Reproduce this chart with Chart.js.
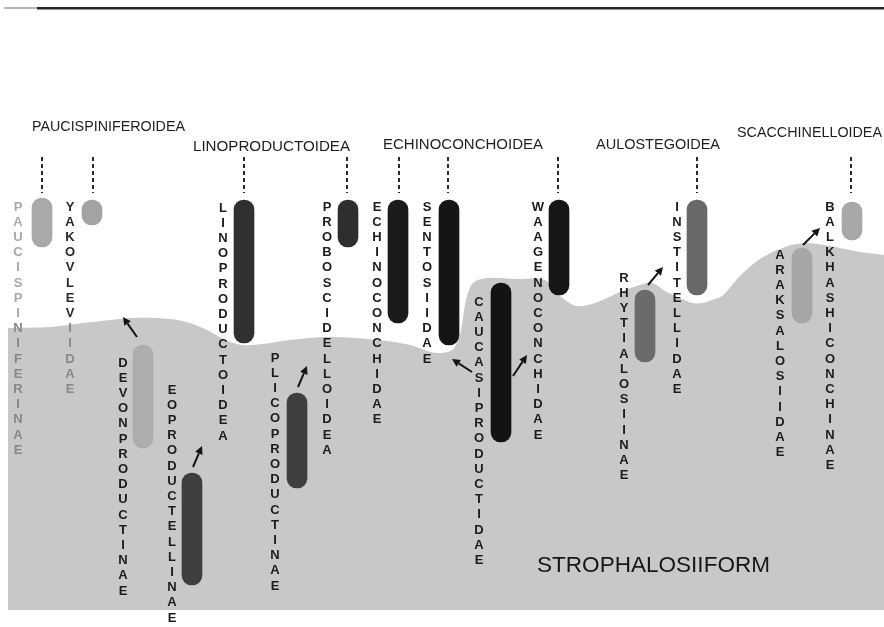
<!DOCTYPE html>
<html>
<head>
<meta charset="utf-8">
<title>Strophalosiiform</title>
<script src="https://cdn.jsdelivr.net/npm/chart.js@4.4.1/dist/chart.umd.min.js"></script>
<style>
  html, body { margin: 0; padding: 0; background: #fff; }
  #chart { display: block; }
</style>
</head>
<body>
<canvas id="chart" width="884" height="627"></canvas>
<script>
// taxa, one bar each (position across, range top/bottom on the diagram scale)
const taxa = ['PAUCISPINIFERINAE', 'YAKOVLEVIIDAE', 'DEVONPRODUCTINAE', 'EOPRODUCTELLINAE',
  'LINOPRODUCTOIDEA', 'PLICOPRODUCTINAE', 'PROBOSCIDELLOIDEA', 'ECHINOCONCHIDAE',
  'SENTOSIIDAE', 'CAUCASIPRODUCTIDAE', 'WAAGENOCONCHIDAE', 'RHYTIALOSIINAE',
  'INSTITELLIDAE', 'ARAKSALOSIIDAE', 'BALKHASHICONCHINAE'];
const columns = [42, 92, 143, 192, 244, 297, 348, 398, 449, 501, 559, 645, 697, 802, 852];
const rangeTop = [198, 200, 345, 473, 200, 393, 200, 200, 200, 283, 200, 290, 200, 248, 202];
const rangeBottom = [247, 225, 448, 585, 343, 488, 247, 323, 345, 442, 295, 362, 295, 323, 240];
const shades = ['#a9a9a9', '#a3a3a3', '#adadad', '#3e3e3e', '#303030', '#3e3e3e', '#2e2e2e',
  '#1a1a1a', '#151515', '#131313', '#161616', '#6b6b6b', '#686868', '#a6a6a6', '#a8a8a8'];

// where each name is written (letters stacked downwards)
const labelX = [18, 70, 123, 172, 223, 275, 327, 377, 427, 479, 538, 624, 677, 780, 830];
const labelTop = [207, 207, 363, 390, 208, 358, 207, 207, 207, 302, 207, 278, 207, 255, 207];

// superfamilies and the taxa hanging from them by a dashed line
const superfamilies = ['PAUCISPINIFEROIDEA', 'LINOPRODUCTOIDEA', 'ECHINOCONCHOIDEA', 'AULOSTEGOIDEA', 'SCACCHINELLOIDEA'];
const superLeft = [32, 193, 383, 596, 737];
const superRight = [185, 350, 543, 720, 882];
const superY = [127, 147, 145, 145, 133];
const dashedColumns = [42, 93, 244, 347, 399, 448, 558, 697, 851];

// top edge of the strophalosiiform field
const fieldX = [8, 50, 83, 133, 170, 190, 207, 225, 242, 262, 290, 330, 380, 410, 422, 436, 452, 460, 466, 473, 487, 515, 545,
  560, 576, 592, 605, 620, 640, 652, 667, 680, 692, 703, 712, 722, 740, 760, 785, 805, 830, 860, 884];
const fieldY = [328, 327, 323, 318, 319, 323, 330, 340, 345, 344, 340, 337, 340, 345, 349, 353, 350, 335, 300, 283, 278, 279, 280,
  296, 306, 304, 299, 292, 285, 283, 292, 298, 303, 303, 300, 296, 276, 259, 247, 243, 246, 252, 255];
const fieldBase = 610;

// small arrows: from -> to
const arrowFrom = [[137, 337], [193, 467], [298, 387], [472, 372], [513, 376], [648, 285], [803, 245]];
const arrowTo = [[123, 317], [202, 446], [307, 366], [452, 359], [527, 355], [663, 267], [820, 228]];

const LETTER_STEP = 15.2;

const notes = {
  id: 'notes',
  afterDatasetsDraw(chart) {
    const ctx = chart.ctx;
    const xs = chart.scales.x, ys = chart.scales.y;
    const px = v => xs.getPixelForValue(v);
    const py = v => ys.getPixelForValue(v);
    ctx.save();

    // rule across the top
    ctx.fillStyle = '#b5b5b5';
    ctx.fillRect(4, 7, 34, 2);
    ctx.fillStyle = '#262626';
    ctx.fillRect(37, 7, 847, 2.5);

    // dashed links up to the superfamilies
    ctx.strokeStyle = '#2a2a2a';
    ctx.lineWidth = 2;
    ctx.setLineDash([4, 3]);
    dashedColumns.forEach(c => {
      ctx.beginPath();
      ctx.moveTo(px(c), py(157));
      ctx.lineTo(px(c), py(193));
      ctx.stroke();
    });
    ctx.setLineDash([]);

    // superfamily names
    ctx.fillStyle = '#1e1e1e';
    ctx.textBaseline = 'middle';
    ctx.textAlign = 'left';
    ctx.font = '14px "Liberation Sans", Arial, sans-serif';
    superfamilies.forEach((name, i) => {
      const w = ctx.measureText(name).width;
      const target = px(superRight[i]) - px(superLeft[i]);
      ctx.save();
      ctx.translate(px(superLeft[i]), py(superY[i]));
      ctx.scale(target / w, 1);
      ctx.fillText(name, 0, 0);
      ctx.restore();
    });

    // vertical names, one letter under the other
    ctx.textAlign = 'center';
    ctx.font = 'bold 13px "Liberation Sans", Arial, sans-serif';
    taxa.forEach((name, i) => {
      [...name].forEach((ch, k) => {
        let col = '#1c1c1c';
        if (i === 0) col = k < 8 ? '#a8a8a8' : '#878787';
        if (i === 1) col = k < 8 ? '#2a2a2a' : '#888888';
        ctx.fillStyle = col;
        ctx.fillText(ch, px(labelX[i]), py(labelTop[i] + k * LETTER_STEP));
      });
    });

    // arrows
    ctx.strokeStyle = '#141414';
    ctx.fillStyle = '#141414';
    ctx.lineWidth = 2;
    arrowFrom.forEach((a, i) => {
      const x0 = px(a[0]), y0 = py(a[1]);
      const x1 = px(arrowTo[i][0]), y1 = py(arrowTo[i][1]);
      const ang = Math.atan2(y1 - y0, x1 - x0);
      const hl = 8, hw = 4;
      const bx = x1 - hl * Math.cos(ang), by = y1 - hl * Math.sin(ang);
      ctx.beginPath();
      ctx.moveTo(x0, y0);
      ctx.lineTo(bx, by);
      ctx.stroke();
      ctx.beginPath();
      ctx.moveTo(x1, y1);
      ctx.lineTo(bx + hw * Math.sin(ang), by - hw * Math.cos(ang));
      ctx.lineTo(bx - hw * Math.sin(ang), by + hw * Math.cos(ang));
      ctx.closePath();
      ctx.fill();
    });

    // field name
    ctx.fillStyle = '#161616';
    ctx.textAlign = 'left';
    ctx.font = '22px "Liberation Sans", Arial, sans-serif';
    const fw = ctx.measureText('STROPHALOSIIFORM').width;
    ctx.save();
    ctx.translate(px(537), py(566));
    ctx.scale((px(770) - px(537)) / fw, 1);
    ctx.fillText('STROPHALOSIIFORM', 0, 0);
    ctx.restore();

    ctx.restore();
  }
};

new Chart(document.getElementById('chart'), {
  type: 'bar',
  data: {
    datasets: [
      {
        type: 'bar',
        label: 'ranges',
        data: columns.map((c, i) => ({ x: c, y: [rangeTop[i], rangeBottom[i]] })),
        backgroundColor: shades,
        barThickness: 20,
        borderRadius: 10,
        borderSkipped: false,
        borderWidth: 0,
        order: 1
      },
      {
        type: 'line',
        label: 'field',
        data: fieldX.map((x, i) => ({ x: x, y: fieldY[i] })),
        backgroundColor: '#c8c8c8',
        borderWidth: 0,
        pointRadius: 0,
        tension: 0.3,
        fill: { value: fieldBase },
        order: 2
      }
    ]
  },
  options: {
    responsive: false,
    animation: false,
    devicePixelRatio: 1,
    events: [],
    layout: { padding: 0 },
    plugins: {
      legend: { display: false },
      tooltip: { enabled: false }
    },
    scales: {
      x: { type: 'linear', min: 0, max: 884, offset: false, display: false },
      y: { type: 'linear', min: 0, max: 627, reverse: true, display: false }
    }
  },
  plugins: [notes]
});
</script>
</body>
</html>
